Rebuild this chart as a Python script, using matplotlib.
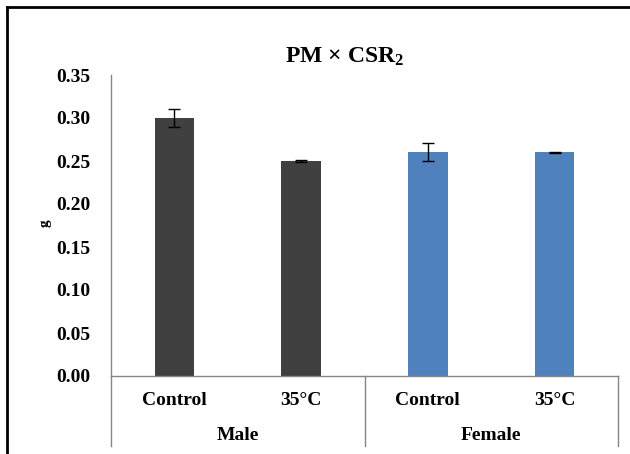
import matplotlib.pyplot as plt
from matplotlib.lines import Line2D

plt.rcParams['font.family'] = 'Liberation Serif'
plt.rcParams['font.weight'] = 'bold'
plt.rcParams['mathtext.fontset'] = 'custom'
plt.rcParams['mathtext.rm'] = 'Liberation Serif:bold'
plt.rcParams['mathtext.it'] = 'Liberation Serif:bold'
plt.rcParams['mathtext.default'] = 'rm'

treatments = ['Control', '35°C', 'Control', '35°C']
sexes = ['Male', 'Female']
mass = [0.30, 0.25, 0.26, 0.26]
err = [0.011, 0.0008, 0.0105, 0.0008]
bar_colors = ['#404040', '#404040', '#4f81bd', '#4f81bd']
grid_col = '#868686'

fig = plt.figure(figsize=(6.3, 4.54), dpi=100)
ax = fig.add_axes([111/630, 78/454, 507/630, 301/454])

x = range(len(mass))
ax.bar(x, mass, width=0.31, color=bar_colors, zorder=2)
ax.errorbar(x, mass, yerr=err, fmt='none', ecolor='black',
            elinewidth=1, capsize=4, capthick=1, zorder=3)

ax.set_xlim(-0.5, 3.5)
ax.set_ylim(0, 0.35)
ax.set_yticks([i * 0.05 for i in range(8)])
ax.set_yticklabels(['%.2f' % (i * 0.05) for i in range(8)], fontsize=14)
ax.tick_params(axis='y', length=0, pad=15)
ax.set_xticks([])

for s in ['top', 'right']:
    ax.spines[s].set_visible(False)
for s in ['left', 'bottom']:
    ax.spines[s].set_color(grid_col)
    ax.spines[s].set_linewidth(1)

# category labels under the axis
tr = ax.get_xaxis_transform()
for i, t in enumerate(treatments):
    ax.text(i, -0.08, t, transform=tr, ha='center', va='center', fontsize=14)
for j, s in enumerate(sexes):
    ax.text(2 * j + 0.5, -0.198, s, transform=tr, ha='center', va='center', fontsize=14)
for xb in [-0.5, 1.5, 3.5]:
    ax.plot([xb, xb], [0, -0.233], transform=tr, color=grid_col, lw=1, clip_on=False)

# y axis title
fig.text(45/630, 1 - 223/454, 'g', rotation=90, ha='center', va='center', fontsize=11)

fig.text(345/630, 1 - 57/454, 'PM × CSR$_2$', ha='center', va='center', fontsize=17)

# chart frame
fig.add_artist(Line2D([6.5/630, 6.5/630], [0, 1 - 6.5/454], color='black', lw=2,
                      transform=fig.transFigure))
fig.add_artist(Line2D([6.5/630, 1], [1 - 6.5/454, 1 - 6.5/454], color='black', lw=2,
                      transform=fig.transFigure))

fig.savefig('out.png', dpi=100)
